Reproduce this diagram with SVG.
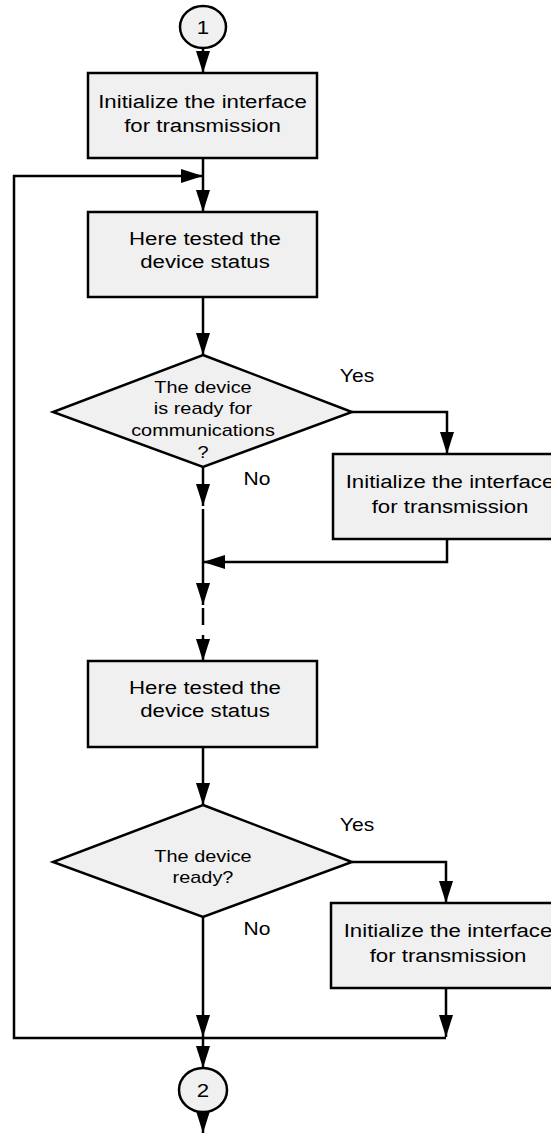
<svg xmlns="http://www.w3.org/2000/svg" width="551" height="1133" viewBox="0 0 551 1133">
<style>
.box{fill:#f0f0f0;stroke:#000;stroke-width:2.5}
.ln{fill:none;stroke:#000;stroke-width:2.5}
.t{font-family:"Liberation Sans",Arial,sans-serif;font-size:19px;fill:#000;text-anchor:middle}
.d{font-size:17px}
.lbl{font-family:"Liberation Sans",Arial,sans-serif;font-size:18px;fill:#000;text-anchor:middle}
</style>
<defs>
<marker id="arr" markerUnits="userSpaceOnUse" markerWidth="23" markerHeight="14" refX="22" refY="7" orient="auto" viewBox="0 0 23 14">
<path d="M0,0 L22,7 L0,14 z" fill="#000"/>
</marker>
</defs>
<rect width="551" height="1133" fill="#fff"/>
<g id="connectors">
<path class="ln" d="M203,48 V73" marker-end="url(#arr)"/>
<path class="ln" d="M203,158 V212" marker-end="url(#arr)"/>
<path class="ln" d="M446,1038 H14 V176 H203" marker-end="url(#arr)"/>
<path class="ln" d="M203,297 V355" marker-end="url(#arr)"/>
<path class="ln" d="M352,412 H447 V454" marker-end="url(#arr)"/>
<path class="ln" d="M203,467 V506" marker-end="url(#arr)"/>
<path class="ln" d="M203,509 V605" marker-end="url(#arr)"/>
<path class="ln" d="M447,539 V562 H203" marker-end="url(#arr)"/>
<path class="ln" d="M203,608 V625"/>
<path class="ln" d="M203,635 V661" marker-end="url(#arr)"/>
<path class="ln" d="M203,747 V805" marker-end="url(#arr)"/>
<path class="ln" d="M352,862 H446 V903" marker-end="url(#arr)"/>
<path class="ln" d="M203,917 V1037" marker-end="url(#arr)"/>
<path class="ln" d="M446,988 V1037" marker-end="url(#arr)"/>
<path class="ln" d="M203,1038 V1068" marker-end="url(#arr)"/>
<path class="ln" d="M203,1112 V1133" marker-end="url(#arr)"/>
</g>
<g id="labels">
<text class="lbl" transform="matrix(1.17 0 0 1 357 0)" x="0" y="382">Yes</text>
<text class="lbl" transform="matrix(1.17 0 0 1 257 0)" x="0" y="485">No</text>
<text class="lbl" transform="matrix(1.17 0 0 1 357 0)" x="0" y="831">Yes</text>
<text class="lbl" transform="matrix(1.17 0 0 1 257 0)" x="0" y="935">No</text>
</g>
<g id="c1">
<ellipse class="box" cx="203" cy="27" rx="23" ry="21"/>
<text class="t" transform="matrix(1.17 0 0 1 203 0)" x="0" y="34">1</text>
</g>
<g id="b1">
<rect class="box" x="88" y="73" width="229" height="85"/>
<text class="t" transform="matrix(1.17 0 0 1 202.5 0)" x="0" y="108">Initialize the interface</text>
<text class="t" transform="matrix(1.17 0 0 1 202.5 0)" x="0" y="132">for transmission</text>
</g>
<g id="b2">
<rect class="box" x="88" y="212" width="229" height="85"/>
<text class="t" transform="matrix(1.17 0 0 1 205 0)" x="0" y="245">Here tested the</text>
<text class="t" transform="matrix(1.17 0 0 1 205 0)" x="0" y="268">device status</text>
</g>
<g id="d1">
<polygon class="box" points="203,355 352,412 203,467 53,412"/>
<text class="t d" transform="matrix(1.17 0 0 1 203 0)" x="0" y="393">The device</text>
<text class="t d" transform="matrix(1.17 0 0 1 203 0)" x="0" y="414">is ready for</text>
<text class="t d" transform="matrix(1.17 0 0 1 203 0)" x="0" y="436">communications</text>
<text class="t d" transform="matrix(1.17 0 0 1 203 0)" x="0" y="458">?</text>
</g>
<g id="b3">
<rect class="box" x="333" y="454" width="234" height="85"/>
<text class="t" transform="matrix(1.17 0 0 1 450 0)" x="0" y="488">Initialize the interface</text>
<text class="t" transform="matrix(1.17 0 0 1 450 0)" x="0" y="513">for transmission</text>
</g>
<g id="b4">
<rect class="box" x="88" y="661" width="229" height="86"/>
<text class="t" transform="matrix(1.17 0 0 1 205 0)" x="0" y="694">Here tested the</text>
<text class="t" transform="matrix(1.17 0 0 1 205 0)" x="0" y="717">device status</text>
</g>
<g id="d2">
<polygon class="box" points="203,805 352,862 203,917 53,862"/>
<text class="t d" transform="matrix(1.17 0 0 1 203 0)" x="0" y="862">The device</text>
<text class="t d" transform="matrix(1.17 0 0 1 203 0)" x="0" y="883">ready?</text>
</g>
<g id="b5">
<rect class="box" x="331" y="903" width="234" height="85"/>
<text class="t" transform="matrix(1.17 0 0 1 448 0)" x="0" y="937">Initialize the interface</text>
<text class="t" transform="matrix(1.17 0 0 1 448 0)" x="0" y="962">for transmission</text>
</g>
<g id="c2">
<ellipse class="box" cx="203" cy="1090" rx="24" ry="22"/>
<text class="t" transform="matrix(1.17 0 0 1 203 0)" x="0" y="1097">2</text>
</g>
</svg>
